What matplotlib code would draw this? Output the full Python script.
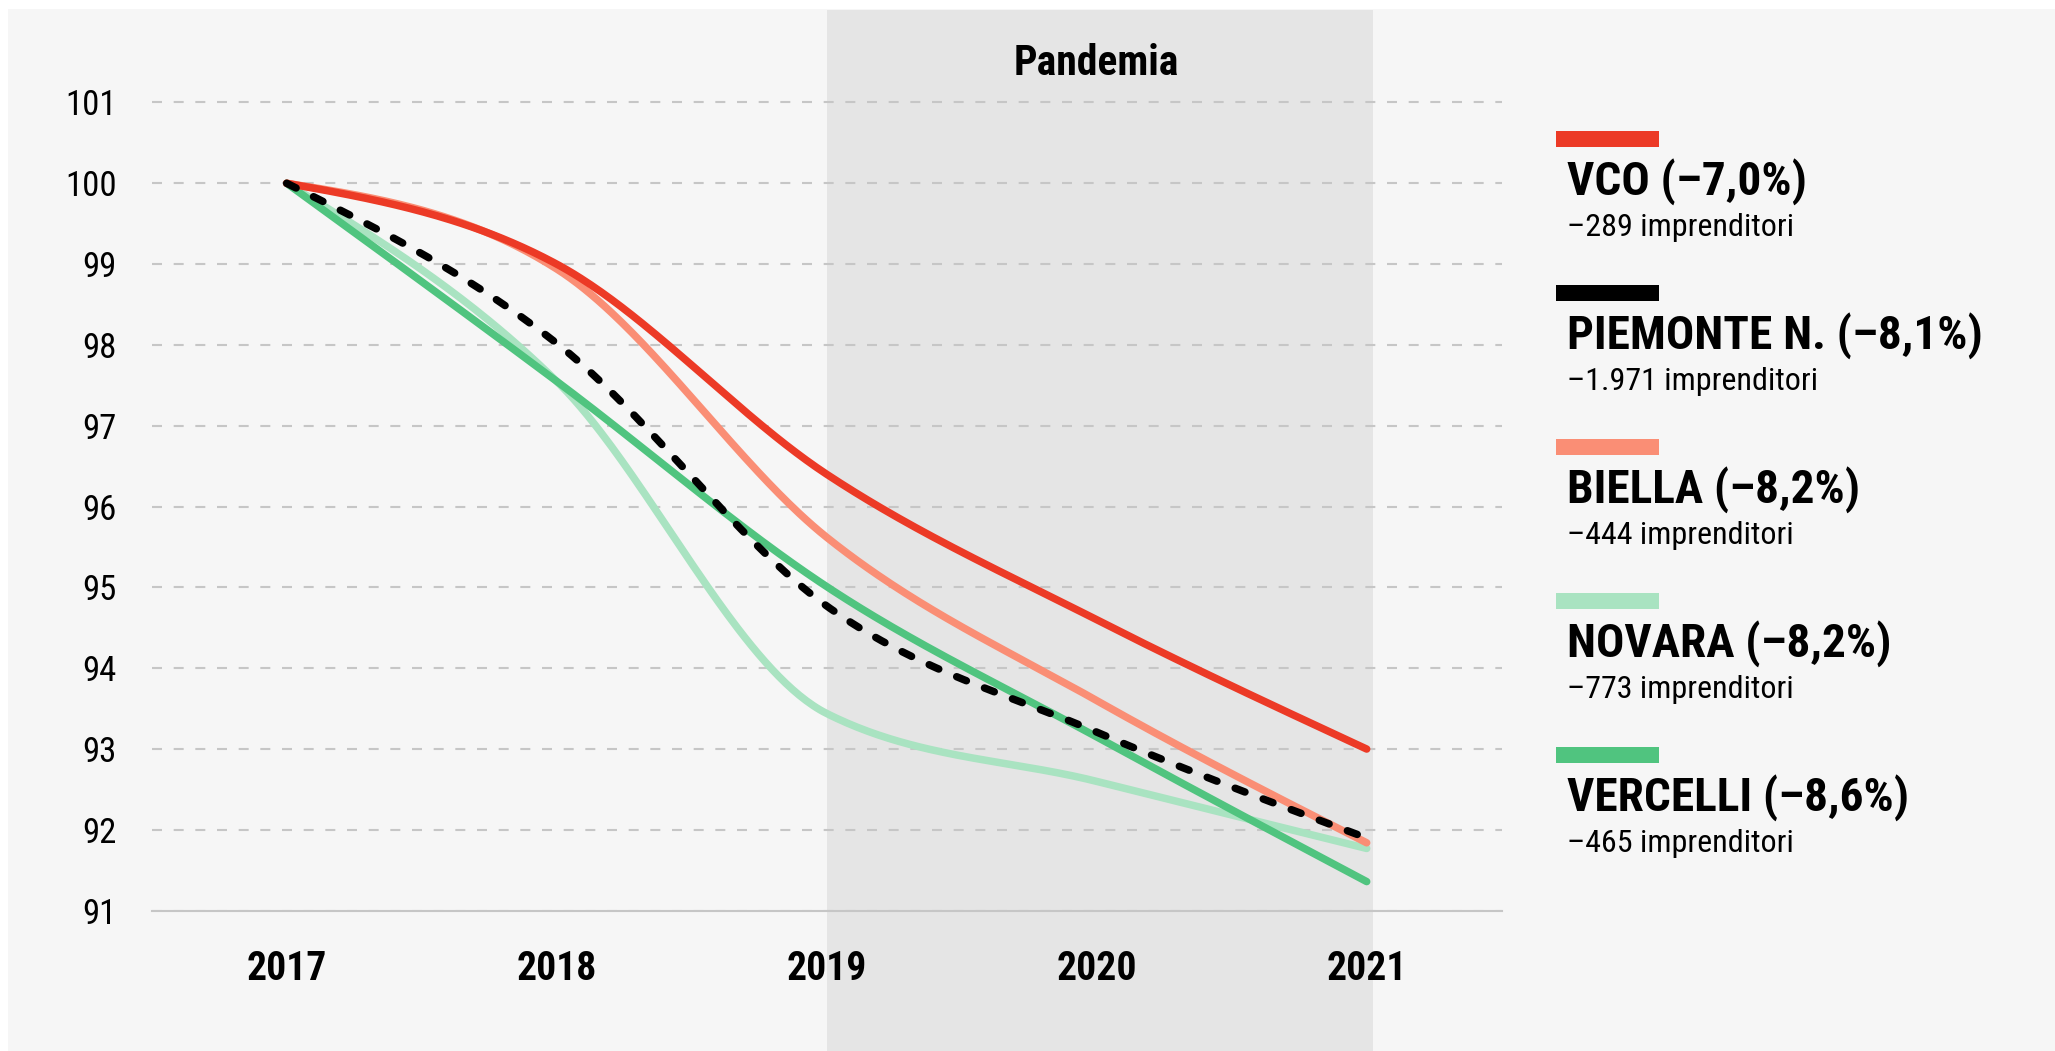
import matplotlib
matplotlib.use('Agg')
import matplotlib.pyplot as plt
from matplotlib import font_manager
from matplotlib.patches import Rectangle
import numpy as np

# dati (indice, 2017 = 100)
years = [2017, 2018, 2019, 2020, 2021]
vco = [100, 99.0, 96.4, 94.6, 93.0]
piemonte = [100, 98.02, 94.77, 93.21, 91.9]
biella = [100, 98.94, 95.62, 93.6, 91.84]
novara = [100, 97.55, 93.44, 92.6, 91.77]
vercelli = [100, 97.55, 95.01, 93.15, 91.36]

names = ['VCO (–7,0%)', 'PIEMONTE N. (–8,1%)', 'BIELLA (–8,2%)', 'NOVARA (–8,2%)', 'VERCELLI (–8,6%)']
subs = ['–289 imprenditori', '–1.971 imprenditori', '–444 imprenditori', '–773 imprenditori', '–465 imprenditori']
colors = ['#ec3a26', '#000000', '#fa8e75', '#a9e3c1', '#50c47f']
yticks = list(range(91, 102))

# font condensato se disponibile
available = {f.name for f in font_manager.fontManager.ttflist}
font = 'DejaVu Sans'
for cand in ['Roboto Condensed', 'Liberation Sans Narrow', 'Archivo Narrow']:
    if cand in available:
        font = cand
        break
plt.rcParams['font.family'] = [font, 'DejaVu Sans']


def monotone(xs, ys, n=80):
    # curva monotona tipo d3.curveMonotoneX
    xs = np.asarray(xs, float)
    ys = np.asarray(ys, float)
    h = np.diff(xs)
    s = np.diff(ys) / h
    t = np.zeros(len(xs))
    for i in range(1, len(xs) - 1):
        p = (s[i - 1] * h[i] + s[i] * h[i - 1]) / (h[i - 1] + h[i])
        sg = (1 if s[i - 1] >= 0 else -1) + (1 if s[i] >= 0 else -1)
        t[i] = sg * min(abs(s[i - 1]), abs(s[i]), 0.5 * abs(p))
    t[0] = (3 * s[0] - t[1]) / 2
    t[-1] = (3 * s[-1] - t[-2]) / 2
    out_x, out_y = [], []
    for i in range(len(xs) - 1):
        u = np.linspace(0, 1, n)
        h00 = 2 * u**3 - 3 * u**2 + 1
        h10 = u**3 - 2 * u**2 + u
        h01 = -2 * u**3 + 3 * u**2
        h11 = u**3 - u**2
        yy = h00 * ys[i] + h10 * h[i] * t[i] + h01 * ys[i + 1] + h11 * h[i] * t[i + 1]
        out_x.extend(xs[i] + u * h[i])
        out_y.extend(yy)
    return np.array(out_x), np.array(out_y)


W, H = 2055, 1051
fig = plt.figure(figsize=(W / 100, H / 100), dpi=100, facecolor='white')
fig.patches.append(Rectangle((8 / W, 0), 1, (H - 9) / H, transform=fig.transFigure,
                             facecolor='#f6f6f6', edgecolor='none', zorder=-10))

ax = fig.add_axes([151.7 / W, (H - 910.7) / H, 1350 / W, 900.7 / H])
ax.set_facecolor('none')
ax.set_xlim(2016.5, 2021.5)
ax.set_ylim(91, 102.144)

# periodo pandemia
ax.axvspan(2019, 2021.022, ymin=-0.16, ymax=1, color='#e5e5e5', lw=0, clip_on=False, zorder=0.5)

ax.set_axisbelow('line')
ax.set_yticks(yticks)
ax.set_xticks(years)
ax.yaxis.grid(True, color='#c6c6c6', lw=1.5, linestyle=(0, (4.8, 5.6)))
ax.tick_params(axis='both', length=0)
ax.tick_params(axis='y', labelsize=25, pad=25)
ax.tick_params(axis='x', labelsize=28.5, pad=28)
for lab in ax.get_xticklabels():
    lab.set_fontweight('bold')
for side in ['top', 'right', 'left']:
    ax.spines[side].set_visible(False)
ax.spines['bottom'].set_color('#c6c6c6')
ax.spines['bottom'].set_linewidth(1.5)

series = [novara, vercelli, biella, vco]
series_colors = [colors[3], colors[4], colors[2], colors[0]]
for vals, c in zip(series, series_colors):
    sx, sy = monotone(years, vals)
    ax.plot(sx, sy, color=c, lw=5.4, solid_capstyle='round', zorder=3)
px, py = monotone(years, piemonte)
ax.plot(px, py, color='black', lw=5.4, dashes=(1.4, 2.6), dash_capstyle='round', zorder=4)

ax.text(2020, 0.941, 'Pandemia', transform=ax.get_xaxis_transform(), ha='center', va='center',
        fontsize=30, fontweight='bold')

# legenda a destra
for i in range(len(names)):
    top = 131 + i * 154
    fig.patches.append(Rectangle((1556 / W, 1 - (top + 16) / H), 103 / W, 16 / H,
                                 transform=fig.transFigure, facecolor=colors[i], edgecolor='none'))
    fig.text(1567 / W, 1 - (top + 64) / H, names[i], fontsize=34, fontweight='bold', va='baseline')
    fig.text(1567 / W, 1 - (top + 105) / H, subs[i], fontsize=23, va='baseline')

plt.savefig('out.png', dpi=100, facecolor=fig.get_facecolor())
